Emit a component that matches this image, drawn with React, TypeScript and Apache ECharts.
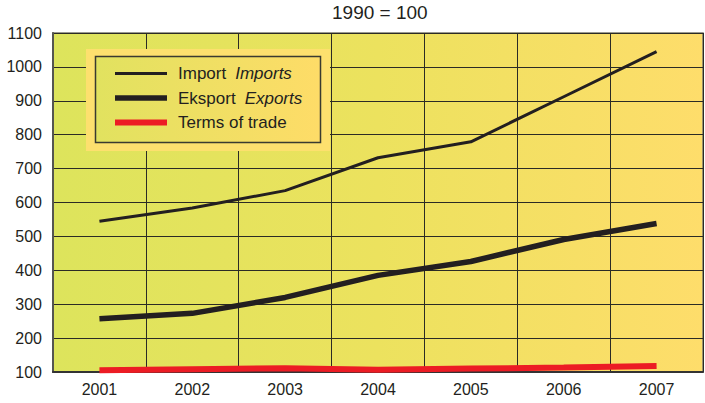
import React, { useEffect, useRef } from "react";
import * as echarts from "echarts";

const years = ["2001", "2002", "2003", "2004", "2005", "2006", "2007"];
const importValues = [545, 584, 635, 732, 779, 912, 1045];
const exportValues = [257, 273, 320, 385, 426, 491, 538];
const tradeValues = [105, 108, 111, 107, 110, 113, 118];
const yTicks = { min: 100, max: 1100, interval: 100 };
const titleText = "1990 = 100";

export default function App() {
  const ref = useRef<HTMLDivElement>(null);
  useEffect(() => {
    if (!ref.current) return;
    const chart = echarts.init(ref.current, null, { renderer: "svg" });
    const font = "'Liberation Sans', Arial, Helvetica, sans-serif";
    const rich = {
      n: { fontFamily: font, fontSize: 17, color: "#231f20", padding: [0, 0, 0, 6] },
      i: { fontFamily: font, fontSize: 17, color: "#231f20", fontStyle: "italic", padding: [0, 0, 0, 9] },
    };
    chart.setOption({
      animation: false,
      backgroundColor: "#ffffff",
      title: {
        text: titleText,
        left: 332,
        top: 3,
        padding: 0,
        textStyle: { fontFamily: font, fontSize: 19, fontWeight: "normal", color: "#231f20" },
      },
      grid: {
        left: 53,
        right: 2,
        top: 33,
        bottom: 31,
        show: true,
        borderColor: "#7a7a6c",
        borderWidth: 1.5,
        backgroundColor: new echarts.graphic.LinearGradient(0, 0, 1, 0, [
          { offset: 0, color: "#dde45c" },
          { offset: 0.5, color: "#ece25e" },
          { offset: 1, color: "#fedd6b" },
        ]),
      },
      graphic: [
        {
          type: "rect",
          z: 3,
          shape: { x: 86, y: 49, width: 244, height: 102 },
          style: { fill: "#fde06e" },
        },
        {
          type: "rect",
          z: 3,
          shape: { x: 95.5, y: 56.5, width: 225, height: 86 },
          style: {
            fill: new echarts.graphic.LinearGradient(0, 0, 1, 0, [
              { offset: 0, color: "#e1e25f" },
              { offset: 1, color: "#fedc68" },
            ]),
            stroke: "#3a3a30",
            lineWidth: 1.5,
          },
        },
      ],
      legend: {
        z: 6,
        orient: "vertical",
        left: 115,
        top: 65,
        padding: 0,
        itemWidth: 52,
        itemHeight: 18,
        itemGap: 7.5,
        symbolKeepAspect: true,
        data: [
          { name: "Import", icon: "path://M0 0H52V3H0Z" },
          { name: "Eksport", icon: "path://M0 0H52V5.5H0Z" },
          { name: "Terms of trade", icon: "path://M0 0H52V6H0Z" },
        ],
        formatter: (name: string) => {
          if (name === "Import") return "{n|Import}{i|Imports}";
          if (name === "Eksport") return "{n|Eksport}{i|Exports}";
          return "{n|Terms of trade}";
        },
        textStyle: { rich },
      },
      xAxis: {
        type: "category",
        data: years,
        boundaryGap: true,
        axisLine: { show: true, lineStyle: { color: "#333333", width: 2 } },
        axisTick: { show: false },
        axisLabel: { fontFamily: font, fontSize: 16, color: "#231f20", margin: 9 },
        splitLine: { show: true, lineStyle: { color: "#2b2b25", width: 1 } },
      },
      yAxis: {
        type: "value",
        min: yTicks.min,
        max: yTicks.max,
        interval: yTicks.interval,
        axisLine: { show: true, lineStyle: { color: "#555550", width: 2 } },
        axisTick: { show: false },
        axisLabel: {
          fontFamily: font,
          fontSize: 16,
          color: "#231f20",
          margin: 11,
          formatter: (v: number) => String(v),
        },
        splitLine: { show: true, lineStyle: { color: "#2b2b25", width: 1 } },
      },
      series: [
        {
          name: "Import",
          type: "line",
          data: importValues,
          symbol: "none",
          z: 4,
          lineStyle: { color: "#231f20", width: 3 },
          itemStyle: { color: "#231f20" },
        },
        {
          name: "Eksport",
          type: "line",
          data: exportValues,
          symbol: "none",
          z: 4,
          lineStyle: { color: "#231f20", width: 5.5 },
          itemStyle: { color: "#231f20" },
        },
        {
          name: "Terms of trade",
          type: "line",
          data: tradeValues,
          symbol: "none",
          z: 4,
          lineStyle: { color: "#ec1c24", width: 6 },
          itemStyle: { color: "#ec1c24" },
        },
      ],
    });
    return () => chart.dispose();
  }, []);
  return (
    <div
      ref={ref}
      style={{ position: "fixed", left: 0, top: 0, width: 705, height: 403 }}
    />
  );
}
